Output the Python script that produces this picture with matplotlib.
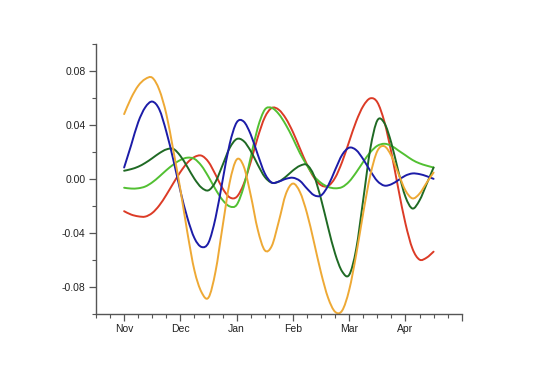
import matplotlib
matplotlib.use("Agg")
import matplotlib.pyplot as plt
import numpy as np
from matplotlib.path import Path
from matplotlib.patches import PathPatch
from matplotlib.ticker import MultipleLocator

# month positions, Nov = 0; samples every 1/8 month from Nov to mid-Apr
months = ['Nov', 'Dec', 'Jan', 'Feb', 'Mar', 'Apr', '']
t = np.arange(45) * 0.125

orange = [0.048, 0.060, 0.069, 0.074, 0.075, 0.066, 0.048, 0.021, -0.008,
          -0.040, -0.068, -0.084, -0.088, -0.0686, -0.0353, -0.0029, 0.0143,
          0.0093, -0.0121, -0.0377, -0.053, -0.0497, -0.0314, -0.0112, -0.0035,
          -0.0098, -0.0255, -0.0471, -0.0697, -0.0882, -0.0986, -0.0977, -0.0824,
          -0.0561, -0.0252, 0.0026, 0.0206, 0.0242, 0.0170, 0.0039, -0.0086,
          -0.0145, -0.011, -0.003, 0.0047]

blue = [0.0084, 0.025, 0.042, 0.053, 0.0573, 0.0515, 0.035, 0.014, -0.009,
        -0.029, -0.044, -0.0505, -0.0473, -0.0289, -0.0012, 0.0257, 0.0418,
        0.0425, 0.0329, 0.0180, 0.004, -0.0028, -0.002, 0.0, 0.0008, -0.0015,
        -0.0072, -0.0121, -0.0123, -0.0051, 0.0066, 0.0178, 0.0231, 0.0213,
        0.0145, 0.0059, -0.0016, -0.005, -0.004, -0.0009, 0.0024, 0.004,
        0.0035, 0.002, 0.0]

red = [-0.024, -0.0265, -0.0278, -0.028, -0.0253, -0.0197, -0.0119, -0.0032,
       0.0051, 0.012, 0.0162, 0.0172, 0.0125, 0.0031, -0.0071, -0.0137, -0.0134,
       -0.0039, 0.0125, 0.0308, 0.0456, 0.0526, 0.0512, 0.0447, 0.0347, 0.0225,
       0.0106, 0.001, -0.0047, -0.0053, 0.0008, 0.0126, 0.0277, 0.0427, 0.054,
       0.0597, 0.0568, 0.0424, 0.0194, -0.0077, -0.0331, -0.0518, -0.0599,
       -0.0585, -0.054]

light_green = [-0.0066, -0.0072, -0.0070, -0.0057, -0.0026, 0.0017, 0.0064,
               0.0106, 0.0140, 0.0157, 0.0148, 0.0097, 0.0015, -0.0078, -0.0157,
               -0.0204, -0.0193, -0.0059, 0.016, 0.0379, 0.0513, 0.0526, 0.048,
               0.040, 0.030, 0.019, 0.010, 0.002, -0.003, -0.006, -0.007, -0.0061,
               -0.002, 0.0048, 0.0126, 0.0197, 0.0245, 0.026, 0.0245, 0.021,
               0.0175, 0.014, 0.0115, 0.0098, 0.0084]

dark_green = [0.006, 0.0072, 0.0090, 0.0118, 0.0153, 0.0190, 0.0218, 0.0222,
              0.0170, 0.0088, 0.0, -0.0065, -0.0085, -0.0022, 0.0102, 0.0228,
              0.0295, 0.028, 0.0206, 0.0105, 0.0014, -0.0029, -0.002, 0.0016,
              0.0062, 0.0097, 0.0103, 0.0023, -0.015, -0.036, -0.0555, -0.0687,
              -0.0712, -0.052, -0.0153, 0.0222, 0.0433, 0.0414, 0.0265, 0.0053,
              -0.0133, -0.022, -0.016, -0.004, 0.0084]

series = [
    (red, '#dc3b26'),
    (light_green, '#52c032'),
    (dark_green, '#1f6a24'),
    (blue, '#1c1ca8'),
    (orange, '#eea935'),
]


def smooth_path(x, y):
    # smoothed line: cubic bezier segments through the points (catmull-rom handles)
    pts = np.column_stack([x, np.asarray(y, dtype=float)])
    ext = np.vstack([pts[0], pts, pts[-1]])
    verts = [pts[0]]
    codes = [Path.MOVETO]
    for i in range(len(pts) - 1):
        p0, p1, p2, p3 = ext[i], ext[i + 1], ext[i + 2], ext[i + 3]
        verts += [p1 + (p2 - p0) / 6, p2 - (p3 - p1) / 6, p2]
        codes += [Path.CURVE4] * 3
    return Path(verts, codes)


plt.rcParams['font.family'] = ['Liberation Sans', 'DejaVu Sans']

fig = plt.figure(figsize=(5.36, 3.76), dpi=100)
ax = fig.add_axes([0.1791, 0.1657, 0.6823, 0.7173])

for vals, color in series:
    ax.add_patch(PathPatch(smooth_path(t, vals), facecolor='none',
                           edgecolor=color, lw=1.4, capstyle='round'))

ax.set_xlim(-0.5, 6.0)
ax.set_ylim(-0.1, 0.1)

ax.set_xticks(range(len(months)))
ax.set_xticklabels(months)
ax.xaxis.set_minor_locator(MultipleLocator(0.25))
ax.set_yticks([-0.08, -0.04, 0.0, 0.04, 0.08])
ax.set_yticklabels([f'{v:.2f}' for v in [-0.08, -0.04, 0.0, 0.04, 0.08]])
ax.yaxis.set_minor_locator(MultipleLocator(0.02))

for side in ['top', 'right']:
    ax.spines[side].set_visible(False)
for side in ['left', 'bottom']:
    ax.spines[side].set_color('#555555')
    ax.spines[side].set_linewidth(1.0)

ax.tick_params(which='major', length=5, width=0.9, color='#555555',
               labelsize=7.5, labelcolor='#222222', pad=2.5)
ax.tick_params(which='minor', length=3, width=0.8, color='#555555')

fig.savefig('out.png', dpi=100)
